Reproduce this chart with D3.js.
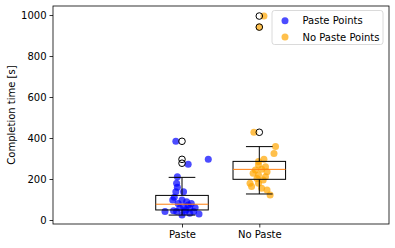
<!DOCTYPE html>
<html><head><meta charset="utf-8">
<script src="https://cdn.jsdelivr.net/npm/d3@7"></script>
<style>body{margin:0;background:#fff}svg{display:block;font-family:"DejaVu Sans",sans-serif}</style>
</head><body>
<script>
const categories = ["Paste", "No Paste"];
const yTicks = [0, 200, 400, 600, 800, 1000];
// scatter values and horizontal jitter (category units)
const pasteValues = [384,272,296,211,179,160,138,138,111,98,98,89,81,81,73,65,57,57,45,41,41,41,41,33,29,24,50,60];
const pasteJitter = [-0.08,0.08,0.34,-0.06,-0.07,-0.06,-0.08,0.02,-0.10,-0.12,0.0,0.06,0.12,-0.05,0.08,0.02,-0.03,0.10,-0.11,-0.22,-0.07,0.04,0.15,0.10,0.22,0.0,0.05,0.17];
const noPasteValues = [428,358,325,296,285,268,260,244,247,236,228,220,211,203,195,179,163,179,155,146,122,995,941];
const noPasteJitter = [-0.07,0.21,0.19,0.06,-0.01,-0.01,0.08,-0.05,0.03,0.10,-0.08,-0.01,0.08,-0.03,0.05,-0.12,-0.10,-0.01,0.03,0.10,0.14,0.06,0.0];
// box statistics: [whiskerLow, q1, median, q3, whiskerHigh]
const pasteBox = [24, 49, 77, 120, 208];
const noPasteBox = [127, 198.5, 247, 286, 358];
const pasteOutliers = [384, 296, 277];
const noPasteOutliers = [428, 941, 995];

const W = 395, H = 248;
const svg = d3.select("body").append("svg").attr("width", W).attr("height", H);
const L = 53, R = 389, T = 6, B = 224;
const x = d3.scaleLinear().domain([-0.669, 3.678]).range([L, R]);
const y = d3.scaleLinear().domain([-19.5, 1044]).range([B, T]);
const pos = [1, 2];
const boxW = 0.68, capW = 0.345;
const FS = 10;

const g = svg.append("g");
const blue = "rgba(0,0,255,0.7)", orange = "rgba(255,165,0,0.7)";
g.selectAll(".pp").data(pasteValues).enter().append("circle")
  .attr("cx", (d,i)=>x(pos[0]+pasteJitter[i])).attr("cy", d=>y(d)).attr("r", 3.5).attr("fill", blue);
g.selectAll(".np").data(noPasteValues).enter().append("circle")
  .attr("cx", (d,i)=>x(pos[1]+noPasteJitter[i])).attr("cy", d=>y(d)).attr("r", 3.5).attr("fill", orange);

[[pasteBox, pasteOutliers], [noPasteBox, noPasteOutliers]].forEach(([b, outs], i) => {
  const c = pos[i];
  const bg = g.append("g").attr("fill","none").attr("stroke","#000").attr("stroke-width",1);
  bg.append("rect").attr("x", x(c-boxW/2)).attr("y", y(b[3])).attr("width", x(c+boxW/2)-x(c-boxW/2)).attr("height", y(b[1])-y(b[3]));
  bg.append("line").attr("x1", x(c)).attr("x2", x(c)).attr("y1", y(b[3])).attr("y2", y(b[4]));
  bg.append("line").attr("x1", x(c)).attr("x2", x(c)).attr("y1", y(b[1])).attr("y2", y(b[0]));
  bg.append("line").attr("x1", x(c-capW/2)).attr("x2", x(c+capW/2)).attr("y1", y(b[4])).attr("y2", y(b[4]));
  bg.append("line").attr("x1", x(c-capW/2)).attr("x2", x(c+capW/2)).attr("y1", y(b[0])).attr("y2", y(b[0]));
  g.append("line").attr("x1", x(c-boxW/2)).attr("x2", x(c+boxW/2)).attr("y1", y(b[2])).attr("y2", y(b[2]))
    .attr("stroke","#ff7f0e").attr("stroke-width",1);
  g.selectAll(null).data(outs).enter().append("circle")
    .attr("cx", x(c)).attr("cy", d=>y(d)).attr("r", 3.3).attr("fill","none").attr("stroke","#000").attr("stroke-width",1);
});

svg.append("rect").attr("x", L).attr("y", T).attr("width", R-L).attr("height", B-T)
  .attr("fill","none").attr("stroke","#000").attr("stroke-width",0.8);

const ya = svg.append("g").attr("transform", `translate(${L},0)`)
  .call(d3.axisLeft(y).tickValues(yTicks).tickFormat(d3.format("d")).tickSize(3.5).tickPadding(3));
ya.select(".domain").remove();
ya.selectAll("text").attr("font-size", FS).attr("font-family","DejaVu Sans").attr("fill","#000");
ya.selectAll("line").attr("stroke","#000").attr("stroke-width",0.8);

const xa = svg.append("g").attr("transform", `translate(0,${B})`)
  .call(d3.axisBottom(x).tickValues(pos).tickFormat((d,i)=>categories[i]).tickSize(3.5).tickPadding(3));
xa.select(".domain").remove();
xa.selectAll("text").attr("font-size", FS).attr("font-family","DejaVu Sans").attr("fill","#000");
xa.selectAll("line").attr("stroke","#000").attr("stroke-width",0.8);

svg.append("text").attr("transform", `translate(14.5,${(T+B)/2}) rotate(-90)`)
  .attr("text-anchor","middle").attr("font-size", FS).text("Completion time [s]");

const lg = svg.append("g");
lg.append("rect").attr("x", 272).attr("y", 10.5).attr("width", 111).attr("height", 34).attr("rx", 2.5)
  .attr("fill","rgba(255,255,255,0.8)").attr("stroke","#d0d0d0").attr("stroke-width",0.8);
[["Paste Points", blue], ["No Paste Points", orange]].forEach(([t, c], i) => {
  lg.append("circle").attr("cx", 285).attr("cy", 20.7 + i*16.3).attr("r", 3.5).attr("fill", c);
  lg.append("text").attr("x", 302.5).attr("y", 20.7 + i*16.3).attr("dy","0.35em").attr("font-size", FS).text(t);
});
</script>
</body></html>
